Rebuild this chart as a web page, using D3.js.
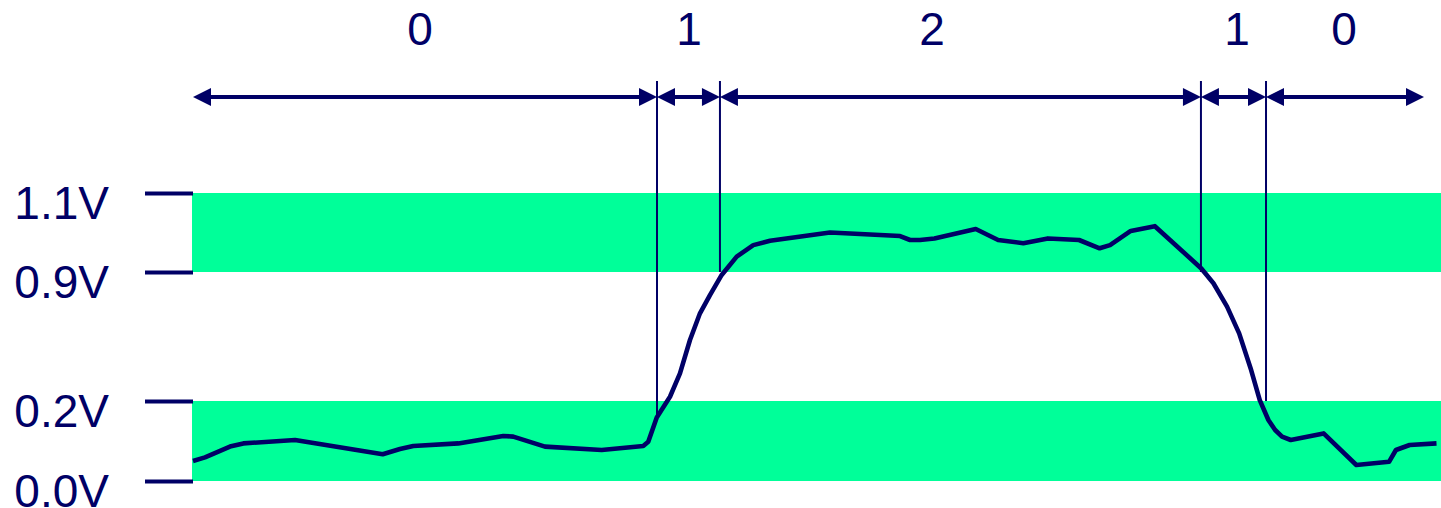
<!DOCTYPE html>
<html>
<head>
<meta charset="utf-8">
<script src="https://cdn.jsdelivr.net/npm/d3@7"></script>
<style>
  html, body { margin: 0; padding: 0; background: #ffffff; }
  svg { display: block; }
</style>
</head>
<body>
<svg id="chart" width="1441" height="508"></svg>
<script>
// ---- data ----
// time (arbitrary units 0..100) and voltage (V) of the signal
const sigTime = [0.08, 1.04, 3.04, 4.11, 8.25, 15.27, 16.65, 17.72, 21.32, 24.92, 25.72, 28.26, 32.80, 36.13, 36.53,
  37.21, 38.27, 39.07, 39.87, 40.67, 41.47, 42.41, 43.61, 44.94, 46.28, 51.08, 56.69, 57.49, 58.29, 59.44, 62.75,
  64.54, 66.56, 68.53, 71.02, 72.67, 73.50, 75.16, 77.09, 80.81, 81.78, 82.87, 83.84, 84.80, 85.49, 86.18, 86.72,
  87.27, 87.97, 90.60, 93.22, 95.84, 96.39, 97.49, 99.64];
const sigVolt = [0.050, 0.059, 0.086, 0.094, 0.1025, 0.067, 0.080, 0.0875, 0.094, 0.1125, 0.111, 0.086, 0.0775, 0.0875, 0.098,
  0.159, 0.223, 0.350, 0.531, 0.676, 0.775, 0.884, 0.939, 0.968, 0.979, 1.000, 0.991, 0.981, 0.981, 0.985, 1.009,
  0.981, 0.973, 0.985, 0.981, 0.960, 0.968, 1.004, 1.016, 0.909, 0.839, 0.712, 0.567, 0.368, 0.205, 0.1525, 0.1275,
  0.111, 0.1025, 0.119, 0.040, 0.048, 0.0775, 0.090, 0.094];

// voltage levels shown on the axis
const levelTicks = [0.0, 0.2, 0.9, 1.1];
// valid bands (low / high)
const bandLow = [0.0, 0.2];
const bandHigh = [0.9, 1.1];

// logic-level segments along the top
const segBounds = [0.08, 37.23, 42.27, 80.78, 85.99, 98.64];
const segLabels = ["0", "1", "2", "1", "0"];
const segLabelTime = [18.25, 39.79, 59.25, 83.67, 92.23];
// lower end (V) of each boundary marker line (inner boundaries)
const markerEndVolt = [0.159, 0.9, 0.9, 0.2];

// ---- chart ----
const navy = "#000066";
const green = "#00ff99";
const font = "'Liberation Sans', Arial, Helvetica, sans-serif";

const svg = d3.select("#chart");
const x = d3.scaleLinear().domain([0, 100]).range([192, 1441]);
const y = d3.scaleLinear().domain([0, 0.2, 0.9, 1.1]).range([481, 401, 272, 193]);

// bands
svg.selectAll("rect.band").data([bandLow, bandHigh]).join("rect")
  .attr("class", "band")
  .attr("x", x(0)).attr("width", x(100) - x(0))
  .attr("y", d => y(d[1])).attr("height", d => y(d[0]) - y(d[1]))
  .attr("fill", green);

// axis
const axis = d3.axisLeft(y).tickValues(levelTicks).tickSize(48).tickPadding(36)
  .tickFormat(d => d.toFixed(1) + "V");
const ag = svg.append("g").attr("transform", `translate(${x(0) + 1},0)`).call(axis);
ag.select(".domain").remove();
ag.selectAll(".tick line").attr("stroke", navy).attr("stroke-width", 4);
ag.selectAll(".tick text").attr("fill", navy).attr("dy", 25)
  .style("font-family", font).style("font-size", "46px");

// boundary marker lines
const arrowY = 97;
svg.selectAll("line.marker").data(segBounds.slice(1, -1)).join("line")
  .attr("class", "marker")
  .attr("x1", d => x(d)).attr("x2", d => x(d))
  .attr("y1", 81).attr("y2", (d, i) => y(markerEndVolt[i]))
  .attr("stroke", navy).attr("stroke-width", 2);

// signal
const line = d3.line().x(d => x(d[0])).y(d => y(d[1])).curve(d3.curveLinear);
svg.append("path").datum(d3.zip(sigTime, sigVolt))
  .attr("d", line).attr("fill", "none").attr("stroke", navy)
  .attr("stroke-width", 4.6).attr("stroke-linejoin", "round").attr("stroke-linecap", "butt");

// double-headed arrows
const headL = 18, headW = 9;
const segs = d3.range(segLabels.length).map(i => [segBounds[i], segBounds[i + 1]]);
const ag2 = svg.append("g");
segs.forEach(s => {
  const a = x(s[0]), b = x(s[1]);
  ag2.append("line").attr("x1", a + headL - 1).attr("x2", b - headL + 1)
    .attr("y1", arrowY).attr("y2", arrowY).attr("stroke", navy).attr("stroke-width", 4);
  ag2.append("path").attr("d", `M${a},${arrowY} L${a + headL},${arrowY - headW} L${a + headL},${arrowY + headW} Z`).attr("fill", navy);
  ag2.append("path").attr("d", `M${b},${arrowY} L${b - headL},${arrowY - headW} L${b - headL},${arrowY + headW} Z`).attr("fill", navy);
});

// segment labels
svg.selectAll("text.seg").data(segLabels).join("text")
  .attr("class", "seg")
  .attr("x", (d, i) => x(segLabelTime[i])).attr("y", 45)
  .attr("text-anchor", "middle").attr("fill", navy)
  .style("font-family", font).style("font-size", "46px")
  .text(d => d);
</script>
</body>
</html>
